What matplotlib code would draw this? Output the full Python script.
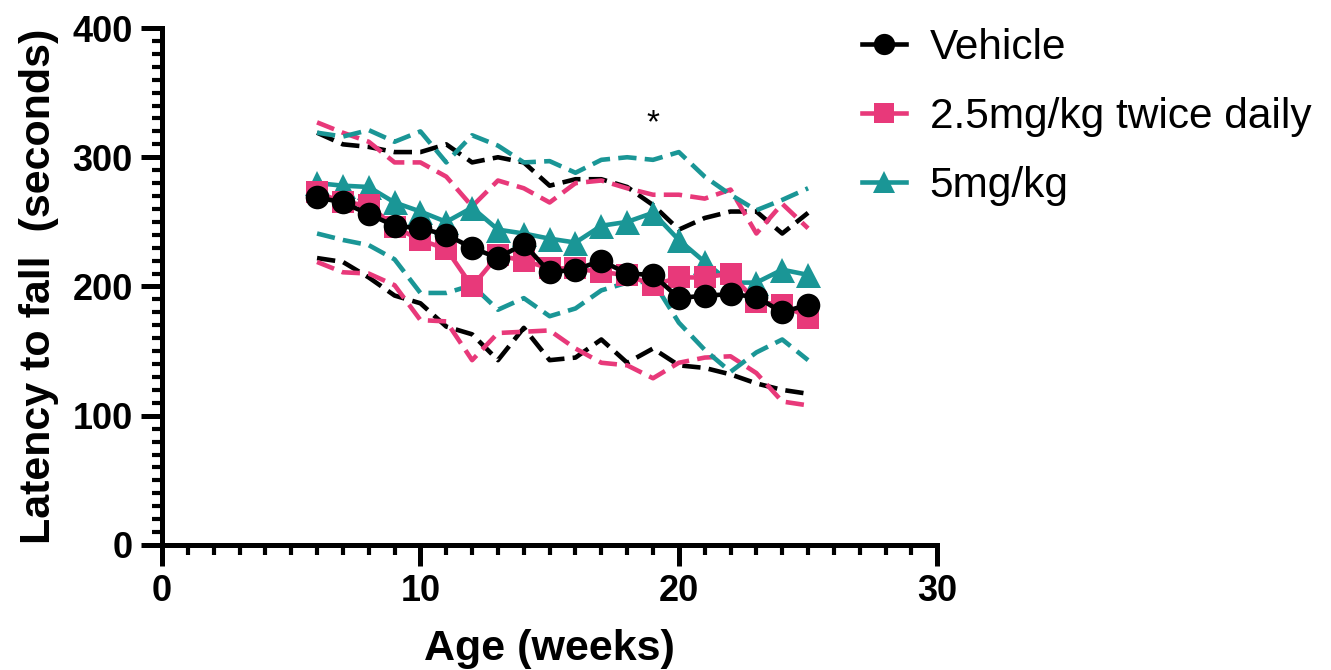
import numpy as np
import matplotlib
matplotlib.use("Agg")
import matplotlib.pyplot as plt
from matplotlib.ticker import MultipleLocator

plt.rcParams['font.family'] = ['Liberation Sans', 'DejaVu Sans']

weeks = np.arange(6, 26)

# means
vehicle = [269, 265, 256, 247, 245, 240, 230, 222, 233, 211,
           213, 220, 210, 209, 191, 193, 194, 192, 180, 186]
low_dose = [273, 265, 263, 246, 236, 229, 200, 224, 220, 214,
            214, 211, 209, 201, 207, 207, 210, 188, 186, 176]
high_dose = [280, 278, 277, 265, 258, 250, 261, 244, 241, 237,
             234, 247, 250, 257, 236, 219, 203, 203, 213, 209]

# upper / lower bands (dashed)
vehicle_hi = [319, 310, 308, 304, 304, 310, 296, 300, 296, 278,
              283, 283, 277, 263, 244, 253, 258, 258, 241, 257]
vehicle_lo = [222, 219, 207, 193, 187, 169, 163, 143, 168, 143,
              145, 159, 141, 152, 139, 137, 132, 125, 120, 117]
low_hi = [327, 319, 312, 296, 296, 285, 262, 282, 276, 265,
          280, 282, 276, 271, 271, 268, 275, 241, 264, 245]
low_lo = [219, 211, 210, 201, 174, 173, 143, 164, 165, 166,
          152, 141, 139, 129, 141, 145, 146, 133, 111, 108]
high_hi = [319, 316, 321, 312, 320, 296, 317, 309, 296, 297,
           288, 298, 300, 298, 304, 285, 271, 259, 267, 276]
high_lo = [241, 236, 232, 221, 195, 195, 201, 182, 191, 177,
           183, 197, 203, 204, 172, 151, 134, 149, 159, 143]

black = '#000000'
pink = '#E8397A'
teal = '#1A9696'

fig = plt.figure(figsize=(13.31, 6.70), dpi=100)
ax = fig.add_axes([0.1217, 0.1866, 0.5825, 0.7716])

dash = (0, (4, 1.8))
for hi, lo, c in [(vehicle_hi, vehicle_lo, black), (low_hi, low_lo, pink),
                  (high_hi, high_lo, teal)]:
    ax.plot(weeks, hi, color=c, lw=3.3, linestyle=dash, zorder=2)
    ax.plot(weeks, lo, color=c, lw=3.3, linestyle=dash, zorder=2)

ax.plot(weeks, high_dose, color=teal, lw=3.3, marker='^', ms=18,
        markeredgewidth=0, label='5mg/kg', zorder=3)
ax.plot(weeks, low_dose, color=pink, lw=3.3, marker='s', ms=16,
        markeredgewidth=0, label='2.5mg/kg twice daily', zorder=4)
ax.plot(weeks, vehicle, color=black, lw=3.3, marker='o', ms=17,
        markeredgewidth=0, label='Vehicle', zorder=5)

ax.text(19, 326, '*', fontsize=24, ha='center', va='center')

ax.set_xlim(0, 30)
ax.set_ylim(0, 400)
ax.xaxis.set_major_locator(MultipleLocator(10))
ax.xaxis.set_minor_locator(MultipleLocator(1))
ax.yaxis.set_major_locator(MultipleLocator(100))
ax.yaxis.set_minor_locator(MultipleLocator(10))
for s in ['top', 'right']:
    ax.spines[s].set_visible(False)
for s in ['left', 'bottom']:
    ax.spines[s].set_linewidth(3.6)
ax.tick_params(which='major', length=15, width=3.6, labelsize=26, pad=6)
ax.tick_params(which='minor', length=7, width=3)
for lab in ax.get_xticklabels() + ax.get_yticklabels():
    lab.set_fontweight('bold')

ax.set_xlabel('Age (weeks)', fontsize=31, fontweight='bold', labelpad=14)
ax.set_ylabel('Latency to fall  (seconds)', fontsize=31, fontweight='bold', labelpad=10)

h, l = ax.get_legend_handles_labels()
order = [2, 1, 0]
fig.legend([h[i] for i in order], [l[i] for i in order],
           loc='upper left', bbox_to_anchor=(0.6476, 0.958), frameon=False,
           fontsize=30.5, handlelength=1.05, markerscale=0.9,
           labelspacing=0.68, handletextpad=0.55, borderpad=0, borderaxespad=0)

fig.savefig('out.png', dpi=100)
